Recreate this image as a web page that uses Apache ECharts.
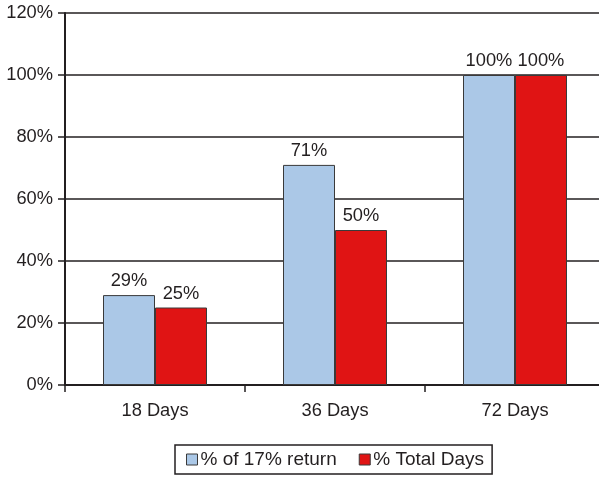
<!DOCTYPE html>
<html>
<head>
<meta charset="utf-8">
<script src="https://cdn.jsdelivr.net/npm/echarts@6/dist/echarts.min.js"></script>
<style>html,body{margin:0;padding:0;background:#fff;}#c{width:599px;height:478px;}</style>
</head>
<body>
<div id="c"></div>
<script>
var categories = ['18 Days', '36 Days', '72 Days'];
var returnPct = [29, 71, 100];
var totalDaysPct = [25, 50, 100];
var seriesNames = ['% of 17% return', '% Total Days'];

var chart = echarts.init(document.getElementById('c'));
var font = 'Liberation Sans, Arial, Helvetica, sans-serif';
var ink = '#231f20';
var fs = 18.3;
chart.setOption({
  animation: false,
  textStyle: { fontFamily: font },
  grid: { left: 65, width: 540, top: 13, bottom: 93, outerBoundsMode: 'none', containLabel: false },
  legend: {
    data: seriesNames,
    left: 175, top: 445,
    padding: [5, 8, 5, 11],
    borderColor: ink, borderWidth: 1.5,
    itemWidth: 11, itemHeight: 11, itemGap: 22,
    icon: 'rect',
    itemStyle: { borderColor: '#3a3a3a', borderWidth: 1 },
    textStyle: { fontFamily: font, fontSize: 19, color: ink, padding: [0, 0, 0, -2] }
  },
  xAxis: {
    type: 'category',
    data: categories,
    axisLine: { lineStyle: { color: ink, width: 2 } },
    axisTick: { show: true, length: 7, lineStyle: { color: ink, width: 1.5 } },
    axisLabel: { fontSize: fs, color: ink, margin: 17, fontFamily: font }
  },
  yAxis: {
    type: 'value', min: 0, max: 120, interval: 20,
    axisLine: { show: true, lineStyle: { color: ink, width: 2 } },
    axisTick: { show: true, length: 7, lineStyle: { color: ink, width: 1.5 } },
    axisLabel: { fontSize: fs, color: ink, margin: 12, formatter: '{value}%', fontFamily: font },
    splitLine: { lineStyle: { color: ink, width: 1.5 } }
  },
  series: [
    {
      name: seriesNames[0], type: 'bar', data: returnPct,
      barWidth: 52, barGap: '0%',
      itemStyle: { color: '#abc8e7', borderColor: '#3a3a3a', borderWidth: 1 },
      label: { show: true, position: 'top', distance: 5, formatter: '{c}%', fontSize: fs, color: ink, fontFamily: font }
    },
    {
      name: seriesNames[1], type: 'bar', data: totalDaysPct,
      barWidth: 52, barGap: '0%',
      itemStyle: { color: '#e01414', borderColor: '#3a3a3a', borderWidth: 1 },
      label: { show: true, position: 'top', distance: 5, formatter: '{c}%', fontSize: fs, color: ink, fontFamily: font }
    }
  ]
});
</script>
</body>
</html>
